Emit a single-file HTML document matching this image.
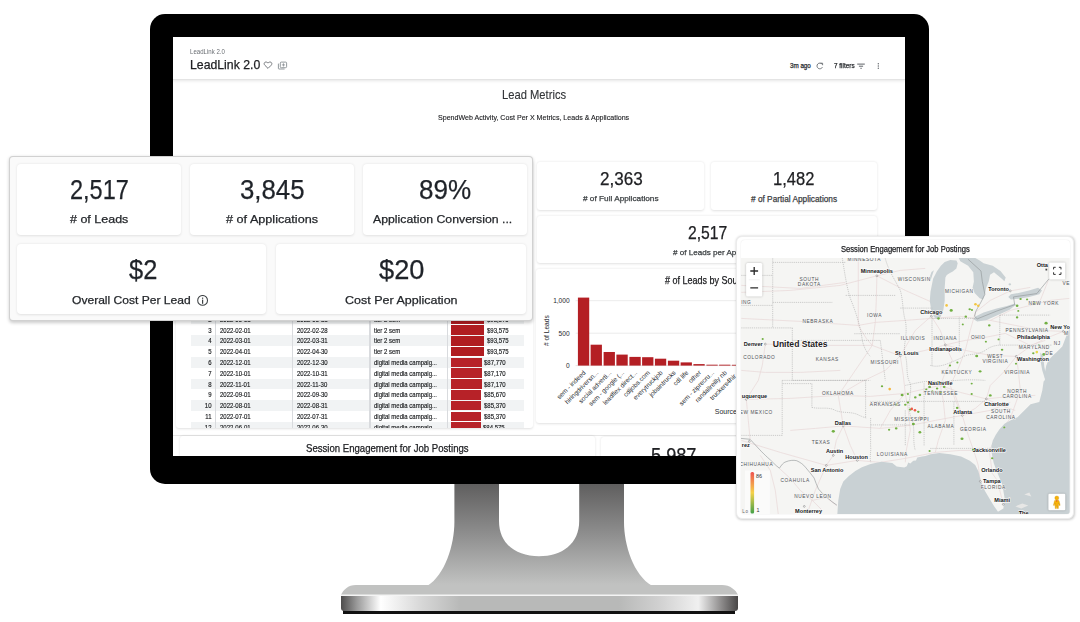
<!DOCTYPE html>
<html><head><meta charset="utf-8">
<style>

*{box-sizing:border-box;margin:0;padding:0}
html,body{width:1080px;height:622px;overflow:hidden;background:#fff}
body{position:relative;font-family:"Liberation Sans",Arial,sans-serif;color:#202124}
.abs{position:absolute}
#bezel{position:absolute;left:150px;top:14px;width:779px;height:470px;background:#000;border-radius:15px}
#screen{position:absolute;left:173px;top:37px;width:732px;height:419px;background:#fff;overflow:hidden}
.hdr{position:absolute;left:0;top:0;width:732px;height:42.5px;background:#fff;border-bottom:1px solid #e4e4e4;box-shadow:0 1px 3px rgba(0,0,0,.10)}
.t{position:absolute;white-space:nowrap;line-height:1}
.card{position:absolute;background:#fff;border-radius:3px;box-shadow:0 0.5px 2.5px rgba(0,0,0,.12)}
.kpi{position:absolute;background:#fff;border-radius:4px;box-shadow:0 0.5px 2.5px rgba(0,0,0,.1)}
.kn{position:absolute;left:0;width:100%;text-align:center;white-space:nowrap;line-height:1;color:#1f2329}
.kl{position:absolute;left:0;width:100%;text-align:center;white-space:nowrap;line-height:1;color:#2d3035}
.trow{position:absolute;left:0;width:333px;height:10.8px;font-size:6.9px;line-height:12.2px;color:#151719;-webkit-text-stroke:0.15px #151719}
.trow span{position:absolute;top:0;white-space:nowrap;transform:scaleX(0.87);transform-origin:0 0}
.trow span.c0{transform-origin:100% 0}
.trow span.bar{transform:none}
.c0{left:0;width:20.5px;text-align:right}
.c1{left:29.5px}.c2{left:106.3px}.c3{left:183.3px}
.bar{left:260.5px;top:0.8px!important;height:9.6px}
.vl{position:absolute;top:0;width:1.2px;height:100%;background:#d9dbde}

</style></head>
<body>
<!-- STAND -->
<svg class="abs" style="left:0;top:0" width="1080" height="622" viewBox="0 0 1080 622">
  <defs>
    <linearGradient id="neck" x1="0" y1="0" x2="0" y2="1">
      <stop offset="0" stop-color="#5c5b5b"/>
      <stop offset="0.5" stop-color="#8d8d8d"/>
      <stop offset="1" stop-color="#c2c3c2"/>
    </linearGradient>
    <linearGradient id="front" x1="0" y1="0" x2="1" y2="0">
      <stop offset="0" stop-color="#4d4c4c"/>
      <stop offset="0.04" stop-color="#9a9a9a"/>
      <stop offset="0.1" stop-color="#ffffff"/>
      <stop offset="0.2" stop-color="#d8d8d8"/>
      <stop offset="0.3" stop-color="#b8b9b8"/>
      <stop offset="0.7" stop-color="#b8b9b8"/>
      <stop offset="0.8" stop-color="#d0d0d0"/>
      <stop offset="0.9" stop-color="#f0f0f0"/>
      <stop offset="0.96" stop-color="#8a8888"/>
      <stop offset="1" stop-color="#484646"/>
    </linearGradient>
  </defs>
  <path d="M454.4,480 L499,480 L499,521 C499,544 516,556.2 539,556.2 C562,556.2 579.2,544 579.2,521 L579.2,480 L624,480 L624,522 C624,545 633.4,575 652,585.8 L427.5,585.8 C445,575 454.4,545 454.4,522 Z" fill="url(#neck)"/>
  <path d="M356,585 L722,585 C730,585 736,590 738,595 L341,595 C343,590 348,585 356,585 Z" fill="#c1c2c1"/>
  <rect x="341" y="594.5" width="397" height="1.6" fill="#f4f4f4"/>
  <rect x="343" y="610" width="392" height="4" fill="#111"/>
  <path d="M341,596 L738,596 L738,608 Q738,611 735,611 L344,611 Q341,611 341,608 Z" fill="url(#front)"/>
</svg>
<div id="bezel"></div>
<div id="screen">
  <div class="hdr"></div>
<svg class="abs" style="left:0;top:0" width="732" height="43" viewBox="173 37 732 43">
  <path d="M268,68.4 L264.9,65.3 C263.9,64.3 263.9,62.9 264.9,62.3 C265.9,61.7 267.2,62.1 268,63.1 C268.8,62.1 270.1,61.7 271.1,62.3 C272.1,62.9 272.1,64.3 271.1,65.3 Z" fill="none" stroke="#5f6368" stroke-width="0.85" stroke-linejoin="round"/>
  <rect x="280.3" y="62.1" width="6.3" height="5.6" rx="1" fill="none" stroke="#80868b" stroke-width="0.85"/>
  <path d="M278.4,63.6 L278.4,68.4 Q278.4,69 279,69 L284.6,69" fill="none" stroke="#80868b" stroke-width="0.85"/>
  <path d="M283.45,63.3 V66.5 M281.85,64.9 H285.05" stroke="#80868b" stroke-width="0.75"/>
  <path d="M822.1,64.2 A2.85,2.85 0 1 0 822.4,67.2" fill="none" stroke="#5f6368" stroke-width="0.85"/>
  <path d="M820.6,63.2 L822.6,63.2 L822.6,65.2" fill="none" stroke="#5f6368" stroke-width="0.85"/>
  <rect x="857.2" y="63.6" width="7.6" height="1.0" fill="#5f6368"/>
  <rect x="858.9" y="65.7" width="4.2" height="1.0" fill="#5f6368"/>
  <rect x="860.4" y="67.8" width="1.3" height="1.0" fill="#5f6368"/>
  <circle cx="878.3" cy="63.7" r="0.68" fill="#5f6368"/><circle cx="878.3" cy="66" r="0.68" fill="#5f6368"/><circle cx="878.3" cy="68.3" r="0.68" fill="#5f6368"/>
</svg>

  <div class="card" style="left:3px;top:124px;width:357px;height:266.5px"></div>
<div class="abs" style="left:17.5px;top:213.0px;width:333.0px;height:177.7px;overflow:hidden">
<div class="trow" style="top:52.9px;background:#fff">
<span class="c0">1</span><span class="c1">2022-01-01</span><span class="c2">2022-01-31</span><span class="c3">tier 2 sem</span><span class="bar" style="width:33.2px;background:#b01d21"></span><span class="c5" style="left:296.0px">$93,575</span>
</div>
<div class="trow" style="top:63.7px;background:#f1f3f4">
<span class="c0">2</span><span class="c1">2022-05-01</span><span class="c2">2022-05-31</span><span class="c3">tier 2 sem</span><span class="bar" style="width:33.2px;background:#b01d21"></span><span class="c5" style="left:296.0px">$93,575</span>
</div>
<div class="trow" style="top:74.5px;background:#fff">
<span class="c0">3</span><span class="c1">2022-02-01</span><span class="c2">2022-02-28</span><span class="c3">tier 2 sem</span><span class="bar" style="width:33.2px;background:#b01d21"></span><span class="c5" style="left:296.0px">$93,575</span>
</div>
<div class="trow" style="top:85.3px;background:#f1f3f4">
<span class="c0">4</span><span class="c1">2022-03-01</span><span class="c2">2022-03-31</span><span class="c3">tier 2 sem</span><span class="bar" style="width:33.2px;background:#b01d21"></span><span class="c5" style="left:296.0px">$93,575</span>
</div>
<div class="trow" style="top:96.1px;background:#fff">
<span class="c0">5</span><span class="c1">2022-04-01</span><span class="c2">2022-04-30</span><span class="c3">tier 2 sem</span><span class="bar" style="width:33.2px;background:#b01d21"></span><span class="c5" style="left:296.0px">$93,575</span>
</div>
<div class="trow" style="top:106.9px;background:#f1f3f4">
<span class="c0">6</span><span class="c1">2022-12-01</span><span class="c2">2022-12-30</span><span class="c3">digital media campaig...</span><span class="bar" style="width:31.0px;background:#b72228"></span><span class="c5" style="left:293.8px">$87,770</span>
</div>
<div class="trow" style="top:117.7px;background:#fff">
<span class="c0">7</span><span class="c1">2022-10-01</span><span class="c2">2022-10-31</span><span class="c3">digital media campaig...</span><span class="bar" style="width:30.9px;background:#b72228"></span><span class="c5" style="left:293.7px">$87,170</span>
</div>
<div class="trow" style="top:128.5px;background:#f1f3f4">
<span class="c0">8</span><span class="c1">2022-11-01</span><span class="c2">2022-11-30</span><span class="c3">digital media campaig...</span><span class="bar" style="width:30.9px;background:#b72228"></span><span class="c5" style="left:293.7px">$87,170</span>
</div>
<div class="trow" style="top:139.3px;background:#fff">
<span class="c0">9</span><span class="c1">2022-09-01</span><span class="c2">2022-09-30</span><span class="c3">digital media campaig...</span><span class="bar" style="width:30.4px;background:#b72228"></span><span class="c5" style="left:293.2px">$85,670</span>
</div>
<div class="trow" style="top:150.1px;background:#f1f3f4">
<span class="c0">10</span><span class="c1">2022-08-01</span><span class="c2">2022-08-31</span><span class="c3">digital media campaig...</span><span class="bar" style="width:30.3px;background:#b72228"></span><span class="c5" style="left:293.1px">$85,370</span>
</div>
<div class="trow" style="top:160.9px;background:#fff">
<span class="c0">11</span><span class="c1">2022-07-01</span><span class="c2">2022-07-31</span><span class="c3">digital media campaig...</span><span class="bar" style="width:30.3px;background:#b72228"></span><span class="c5" style="left:293.1px">$85,370</span>
</div>
<div class="trow" style="top:171.7px;background:#f1f3f4">
<span class="c0">12</span><span class="c1">2022-06-01</span><span class="c2">2022-06-30</span><span class="c3">digital media campaig...</span><span class="bar" style="width:30.0px;background:#b72228"></span><span class="c5" style="left:292.8px">$84,575</span>
</div>
<div class="vl" style="left:24.0px"></div><div class="vl" style="left:101.1px"></div><div class="vl" style="left:178.9px"></div><div class="vl" style="left:256.3px"></div>
</div>

  <div class="card" style="left:364.3px;top:125.1px;width:166.7px;height:47.5px"></div>
  <div class="card" style="left:537.7px;top:125.1px;width:166.4px;height:47.5px"></div>
  <div class="card" style="left:364.3px;top:178.7px;width:339.8px;height:47.3px"></div>
  <div class="card" style="left:363.4px;top:232.3px;width:340.7px;height:154.2px"></div>
<svg class="abs" style="left:363.4px;top:232.3px" width="341.0" height="154.2" viewBox="0 0 341.0 154.2">
<line x1="39.6" y1="31.7" x2="335.6" y2="31.7" stroke="#e6e6e6" stroke-width="0.8"/>
<line x1="39.6" y1="64.2" x2="335.6" y2="64.2" stroke="#e6e6e6" stroke-width="0.8"/>
<line x1="39.6" y1="96.6" x2="335.6" y2="96.6" stroke="#e0e0e0" stroke-width="0.8"/>
<rect x="41.90" y="28.60" width="11.3" height="68.00" fill="#b41f24"/>
<rect x="54.60" y="75.70" width="11.3" height="20.90" fill="#b41f24"/>
<rect x="67.60" y="83.00" width="11.3" height="13.60" fill="#b41f24"/>
<rect x="80.40" y="85.60" width="11.3" height="11.00" fill="#b41f24"/>
<rect x="93.40" y="87.90" width="11.3" height="8.70" fill="#b41f24"/>
<rect x="106.10" y="88.20" width="11.3" height="8.40" fill="#b41f24"/>
<rect x="118.90" y="89.70" width="11.3" height="6.90" fill="#b41f24"/>
<rect x="131.90" y="91.70" width="11.3" height="4.90" fill="#b41f24"/>
<rect x="144.60" y="93.40" width="11.3" height="3.20" fill="#b41f24"/>
<rect x="157.40" y="95.10" width="11.3" height="1.50" fill="#b41f24"/>
<rect x="170.40" y="95.70" width="11.3" height="0.90" fill="#b41f24"/>
<rect x="183.10" y="95.70" width="11.3" height="0.90" fill="#b41f24"/>
<rect x="195.90" y="95.80" width="11.3" height="0.80" fill="#b41f24"/>
<rect x="208.70" y="95.80" width="11.3" height="0.80" fill="#b41f24"/>
<rect x="221.50" y="95.80" width="11.3" height="0.80" fill="#b41f24"/>
<rect x="234.30" y="95.80" width="11.3" height="0.80" fill="#b41f24"/>
<text x="33.6" y="34.0" font-size="6.6" text-anchor="end" fill="#26292d">1,000</text>
<text x="33.6" y="66.6" font-size="6.6" text-anchor="end" fill="#26292d">500</text>
<text x="33.6" y="99.0" font-size="6.6" text-anchor="end" fill="#26292d">0</text>
<text transform="translate(13.1 61.7) rotate(-90)" font-size="6.6" text-anchor="middle" fill="#26292d"># of Leads</text>
<text transform="translate(50.0 104.1) rotate(-45)" font-size="6.5" text-anchor="end" fill="#26292d">sem - indeed</text>
<text transform="translate(62.8 104.1) rotate(-45)" font-size="6.5" text-anchor="end" fill="#26292d">hiringdriversn...</text>
<text transform="translate(75.8 104.1) rotate(-45)" font-size="6.5" text-anchor="end" fill="#26292d">social adverti...</text>
<text transform="translate(88.5 104.1) rotate(-45)" font-size="6.5" text-anchor="end" fill="#26292d">sem - google (...</text>
<text transform="translate(101.5 104.1) rotate(-45)" font-size="6.5" text-anchor="end" fill="#26292d">leadflex direct...</text>
<text transform="translate(114.2 104.1) rotate(-45)" font-size="6.5" text-anchor="end" fill="#26292d">cdljobs.com</text>
<text transform="translate(127.0 104.1) rotate(-45)" font-size="6.5" text-anchor="end" fill="#26292d">everytruckjob</text>
<text transform="translate(140.0 104.1) rotate(-45)" font-size="6.5" text-anchor="end" fill="#26292d">jobsintrucks</text>
<text transform="translate(152.8 104.1) rotate(-45)" font-size="6.5" text-anchor="end" fill="#26292d">cdl life</text>
<text transform="translate(165.5 104.1) rotate(-45)" font-size="6.5" text-anchor="end" fill="#26292d">other</text>
<text transform="translate(178.5 104.1) rotate(-45)" font-size="6.5" text-anchor="end" fill="#26292d">sem - ziprecru...</text>
<text transform="translate(191.2 104.1) rotate(-45)" font-size="6.5" text-anchor="end" fill="#26292d">randallreilly nb</text>
<text transform="translate(204.0 104.1) rotate(-45)" font-size="6.5" text-anchor="end" fill="#26292d">truckers4hir...</text>
<text transform="translate(216.9 104.1) rotate(-45)" font-size="6.5" text-anchor="end" fill="#26292d">cdl...</text>
<text x="178.8" y="145.0" font-size="7" fill="#26292d">Source</text>
</svg>

  <div class="abs" style="left:0;top:397.6px;width:732px;height:1px;background:#e6e6e6"></div>
  <div class="card" style="left:6.6px;top:399px;width:415.4px;height:40px"></div>
  <div class="card" style="left:428.3px;top:399.6px;width:300px;height:40px"></div>
<div class="t" style="left:17.31px;top:12.21px;font-size:6.57px;color:#6b6f74;transform:scaleX(0.928);transform-origin:0 0;">LeadLink 2.0</div>
<div class="t" style="left:16.82px;top:22.19px;font-size:12.71px;color:#202124;transform:scaleX(0.966);transform-origin:0 0;-webkit-text-stroke:0.25px #202124;">LeadLink 2.0</div>
<div class="t" style="left:616.91px;top:25.66px;font-size:6.29px;color:#2a2d31;-webkit-text-stroke:0.25px #2a2d31;">3m ago</div>
<div class="t" style="left:660.58px;top:25.66px;font-size:6.29px;color:#2a2d31;transform:scaleX(1.017);transform-origin:0 0;-webkit-text-stroke:0.25px #2a2d31;">7 filters</div>
<div class="t" style="left:328.80px;top:51.86px;font-size:12.29px;color:#303336;transform:scaleX(0.912);transform-origin:0 0;-webkit-text-stroke:0.10px #303336;">Lead Metrics</div>
<div class="t" style="left:264.62px;top:76.86px;font-size:7.57px;color:#202124;transform:scaleX(0.937);transform-origin:0 0;-webkit-text-stroke:0.12px #202124;">SpendWeb Activity, Cost Per X Metrics, Leads &amp; Applications</div>
<div class="t" style="left:426.75px;top:133.52px;font-size:17.86px;color:#202124;transform:scaleX(0.957);transform-origin:0 0;-webkit-text-stroke:0.25px #202124;">2,363</div>
<div class="t" style="left:410.20px;top:158.42px;font-size:7.86px;color:#3c4043;transform:scaleX(1.048);transform-origin:0 0;-webkit-text-stroke:0.25px #3c4043;"># of Full Applications</div>
<div class="t" style="left:600.44px;top:133.46px;font-size:18.29px;color:#202124;transform:scaleX(0.903);transform-origin:0 0;-webkit-text-stroke:0.25px #202124;">1,482</div>
<div class="t" style="left:578.00px;top:158.16px;font-size:8.29px;color:#3c4043;-webkit-text-stroke:0.25px #3c4043;"># of Partial Applications</div>
<div class="t" style="left:515.11px;top:186.60px;font-size:18.00px;color:#202124;transform:scaleX(0.873);transform-origin:0 0;-webkit-text-stroke:0.25px #202124;">2,517</div>
<div class="t" style="left:500.00px;top:211.80px;font-size:8.00px;color:#3c4043;transform:scaleX(1.010);transform-origin:0 0;-webkit-text-stroke:0.25px #3c4043;"># of Leads per Application</div>
<div class="t" style="left:132.92px;top:407.26px;font-size:10.29px;color:#202124;transform:scaleX(0.933);transform-origin:0 0;-webkit-text-stroke:0.25px #202124;">Session Engagement for Job Postings</div>
<div class="t" style="left:478.07px;top:407.56px;font-size:22.29px;color:#202124;transform:scaleX(0.815);transform-origin:0 0;-webkit-text-stroke:0.25px #202124;">5,987</div>
<div class="t" style="left:491.60px;top:239.18px;font-size:10.14px;color:#202124;transform:scaleX(0.888);transform-origin:0 0;-webkit-text-stroke:0.25px #202124;"># of Leads by Source</div>
</div>
<div class="abs" id="kpi" style="left:9px;top:156px;width:523.8px;height:164.6px;background:#fafafa;border-radius:4px;border:0.7px solid rgba(0,0,0,.16);box-shadow:0 1.5px 3.5px rgba(0,0,0,.2)">
  <div class="kpi" style="left:7.3px;top:7.3px;width:164px;height:70.5px"></div>
  <div class="kpi" style="left:180.3px;top:7.3px;width:164px;height:70.5px"></div>
  <div class="kpi" style="left:353.3px;top:7.3px;width:164px;height:70.5px"></div>
  <div class="kpi" style="left:7.3px;top:86.8px;width:249px;height:70.6px"></div>
  <div class="kpi" style="left:266.3px;top:86.8px;width:250px;height:70.6px"></div>
</div>
<div class="t" style="left:69.72px;top:175.59px;font-size:27.43px;color:#1f2329;transform:scaleX(0.858);transform-origin:0 0;-webkit-text-stroke:0.25px #1f2329;">2,517</div>
<div class="t" style="left:70.00px;top:213.69px;font-size:11.43px;color:#24272b;transform:scaleX(1.094);transform-origin:0 0;-webkit-text-stroke:0.25px #24272b;"># of Leads</div>
<div class="t" style="left:239.93px;top:175.59px;font-size:27.43px;color:#1f2329;transform:scaleX(0.941);transform-origin:0 0;-webkit-text-stroke:0.25px #1f2329;">3,845</div>
<div class="t" style="left:225.90px;top:213.69px;font-size:11.43px;color:#24272b;transform:scaleX(1.106);transform-origin:0 0;-webkit-text-stroke:0.25px #24272b;"># of Applications</div>
<div class="t" style="left:418.76px;top:175.59px;font-size:27.43px;color:#1f2329;transform:scaleX(0.951);transform-origin:0 0;-webkit-text-stroke:0.25px #1f2329;">89%</div>
<div class="t" style="left:372.90px;top:213.69px;font-size:11.43px;color:#24272b;transform:scaleX(1.075);transform-origin:0 0;-webkit-text-stroke:0.25px #24272b;">Application Conversion ...</div>
<div class="t" style="left:128.55px;top:255.66px;font-size:27.57px;color:#1f2329;transform:scaleX(0.924);transform-origin:0 0;-webkit-text-stroke:0.25px #1f2329;">$2</div>
<div class="t" style="left:71.82px;top:293.54px;font-size:11.71px;color:#24272b;transform:scaleX(1.031);transform-origin:0 0;-webkit-text-stroke:0.25px #24272b;">Overall Cost Per Lead</div>
<div class="t" style="left:378.93px;top:255.66px;font-size:27.57px;color:#1f2329;transform:scaleX(0.988);transform-origin:0 0;-webkit-text-stroke:0.25px #1f2329;">$20</div>
<div class="t" style="left:344.67px;top:293.54px;font-size:11.71px;color:#24272b;transform:scaleX(1.068);transform-origin:0 0;-webkit-text-stroke:0.25px #24272b;">Cost Per Application</div>
<svg class="abs" style="left:197px;top:294.6px" width="12" height="12" viewBox="0 0 12 12"><circle cx="5.6" cy="5.4" r="4.9" fill="none" stroke="#3c4043" stroke-width="1.05"/><rect x="5" y="2.6" width="1.2" height="1.2" fill="#3c4043"/><rect x="5" y="4.6" width="1.2" height="4.2" fill="#3c4043"/></svg>
<div class="abs" id="map" style="left:736.3px;top:236.3px;width:337.5px;height:283.1px;background:#fff;border-radius:6px;border:0.8px solid #ececec;box-shadow:0.8px 0.8px 2.5px rgba(0,0,0,.2);overflow:hidden">
<div class="abs" style="left:3.6px;top:3.2px;width:328.7px;height:273.9px;border-radius:4px;box-shadow:0 0 1.5px rgba(0,0,0,.12)"></div>
<svg class="abs" style="left:3.6px;top:20.5px;border-radius:0 0 3px 3px" width="328.7" height="256.6" viewBox="740.7 257.6 328.7 256.6" font-family="Liberation Sans, Arial, sans-serif">
<rect x="740.7" y="257.6" width="328.7" height="256.6" fill="#f5f5f3"/>
<path d="M741,318 L800,321 L858,325 L875,322 L905,320 L931,318 L960,316 L990,320 L1015,325 L1040,330 L1063,331" fill="none" stroke="#e8d7d7" stroke-width="0.7" stroke-linejoin="round"/>
<path d="M765,343.7 L820,345 L872,345 L900,355.5 L925,350 L945,344.5 L965,340 L980,338 L1005,333 L1030,345 L1045,340" fill="none" stroke="#e8d7d7" stroke-width="0.7" stroke-linejoin="round"/>
<path d="M741,398 L746,399 L790,398 L838,395 L870,396 L905,393 L940,385 L960,392 L986,398.5 L1010,396 L1035,395" fill="none" stroke="#e8d7d7" stroke-width="0.7" stroke-linejoin="round"/>
<path d="M741,440 L780,452 L826,465 L857,460 L880,462 L905,458 L935,452 L960,450 L989,450" fill="none" stroke="#e8d7d7" stroke-width="0.7" stroke-linejoin="round"/>
<path d="M790,430 L815,428 L843,425.5 L880,428 L910,425 L935,420 L962,415 L990,410 L1010,402" fill="none" stroke="#e8d7d7" stroke-width="0.7" stroke-linejoin="round"/>
<path d="M876.6,275.4 L876,300 L875,322 L872,345 L855,370 L838,395 L843,425.5 L836,440 L833,455 L826,465 L815,490 L808,510" fill="none" stroke="#e8d7d7" stroke-width="0.7" stroke-linejoin="round"/>
<path d="M1003,504 L997,480 L992,473 L989,450 L1000,430 L1010,418 L1020,390 L1018,370 L1016,356 L1030,346 L1043,339 L1063,331" fill="none" stroke="#e8d7d7" stroke-width="0.7" stroke-linejoin="round"/>
<path d="M980,481 L978,465 L975,455 L968,435 L962,415 L955,400 L950,385 L958,368 L965,350 L970,330 L975,312" fill="none" stroke="#e8d7d7" stroke-width="0.7" stroke-linejoin="round"/>
<path d="M931,315.8 L940,330 L945,344.5 L952,360 L945,372 L940,385 L943,400 L945,420 L938,440 L935,452" fill="none" stroke="#e8d7d7" stroke-width="0.7" stroke-linejoin="round"/>
<path d="M931,315.8 L915,330 L900,355.5 L903,375 L905,393 L908,410 L910,430 L906,450 L905,462" fill="none" stroke="#e8d7d7" stroke-width="0.7" stroke-linejoin="round"/>
<path d="M741,292 L790,290 L840,285 L876.6,275.4 L905,290 L932,302 L931,315.8" fill="none" stroke="#e8d7d7" stroke-width="0.7" stroke-linejoin="round"/>
<path d="M741,285 L800,288 L845,282" fill="none" stroke="#e8d7d7" stroke-width="0.7" stroke-linejoin="round"/>
<path d="M990,320 L1010,310 L1030,305 L1050,300 L1069,298" fill="none" stroke="#e8d7d7" stroke-width="0.7" stroke-linejoin="round"/>
<path d="M765,343.7 L762,365 L758,380 L746,399 L748,420 L749.8,438.9" fill="none" stroke="#e8d7d7" stroke-width="0.7" stroke-linejoin="round"/>
<path d="M858,258 L858,300 L858,325 L866,338 L872,345" fill="none" stroke="#e8d7d7" stroke-width="0.7" stroke-linejoin="round"/>
<path d="M900,355.5 L885,370 L860,382 L838,395" fill="none" stroke="#e8d7d7" stroke-width="0.7" stroke-linejoin="round"/>
<path d="M940,385 L955,395 L962,415" fill="none" stroke="#e8d7d7" stroke-width="0.7" stroke-linejoin="round"/>
<path d="M1016,356 L1005,370 L990,385 L986,398.5 L975,408 L962,415" fill="none" stroke="#e8d7d7" stroke-width="0.7" stroke-linejoin="round"/>
<path d="M986,398.5 L1000,405 L1015,410" fill="none" stroke="#e8d7d7" stroke-width="0.7" stroke-linejoin="round"/>
<path d="M843,425.5 L850,445 L857,460" fill="none" stroke="#e8d7d7" stroke-width="0.7" stroke-linejoin="round"/>
<path d="M779,468 L790,478 L800,490 L812,500 L822,510" fill="none" stroke="#e8d7d7" stroke-width="0.7" stroke-linejoin="round"/>
<path d="M760,455 L770,470 L775,490 L778,514" fill="none" stroke="#e8d7d7" stroke-width="0.7" stroke-linejoin="round"/>
<path d="M812,500 L826,497 L836,505" fill="none" stroke="#e8d7d7" stroke-width="0.7" stroke-linejoin="round"/>
<path d="M905,393 L890,410 L880,428" fill="none" stroke="#e8d7d7" stroke-width="0.7" stroke-linejoin="round"/>
<path d="M741,370 L765,372 L800,372 L840,370" fill="none" stroke="#e8d7d7" stroke-width="0.7" stroke-linejoin="round"/>
<path d="M1030,305 L1040,300 L1048,280" fill="none" stroke="#e8d7d7" stroke-width="0.7" stroke-linejoin="round"/>
<path d="M975,312 L990,300 L1010,290.5 L1030,287" fill="none" stroke="#e8d7d7" stroke-width="0.7" stroke-linejoin="round"/>
<path d="M876.6,275.4 L900,270 L925,268" fill="none" stroke="#e8d7d7" stroke-width="0.7" stroke-linejoin="round"/>
<path d="M945,344.5 L965,350 L990,355 L1016,356" fill="none" stroke="#e8d7d7" stroke-width="0.7" stroke-linejoin="round"/>
<path d="M940.6,265.4 L944.4,261.5 L950,259.5 L956.1,260.2 L957.4,262.8 L956.1,268 L952.5,271 L949.6,272.5 L946.5,274.5 L945.1,277 L944.4,287.4 L944.4,300.4 L943.1,309.4 L940.5,316 L937,318.8 L933.4,316 L930.8,309.4 L929.5,300.4 L930.2,291.3 L932.8,278.3 L936.5,271 Z M928.3,279.5 L931.2,271.5 L933.6,269.8 L930.6,279.2 Z" fill="#c9d1d4"/>
<path d="M958.5,257.6 L975,257.6 L979.4,260.2 L983.3,262.8 L992.4,265.4 L1000.2,270.6 L1005.4,277 L1004.1,280.9 L1001.5,278.3 L993.7,271.9 L989.8,274.4 L988.5,280.9 L985.9,287.4 L984.6,293.9 L982.7,299.1 L979.4,297.8 L974.3,292.6 L972.3,287.4 L973.6,281 L973,271.9 L967.8,265.4 L960,260.8 Z" fill="#c9d1d4"/>
<path d="M973,318.5 L975.6,315.9 L983.3,312 L996.3,308.2 L1006.7,305.6 L1014.4,303 L1015.7,304.3 L1009.3,309.4 L997.6,314.6 L985.9,319.8 L976.9,321.1 Z" fill="#c9d1d4"/>
<path d="M1008,296.5 L1010.6,293.9 L1018.3,292.6 L1028.7,290 L1037.8,287.4 L1041.7,290 L1039.1,293.9 L1028.7,296.5 L1018.3,298.4 L1010.6,299.1 Z" fill="#c9d1d4"/>
<path d="M1009.5,282.8 a1.3,1 0 1 0 0.1,0 Z" fill="#c9d1d4"/>
<path d="M1069.4,328 L1067,333 L1062,346 L1056,352 L1052.6,355 L1048,360 L1046,365 L1044.6,372 L1044.6,379.5 L1043.3,381 L1042,390 L1039,401.7 L1030.3,403.9 L1024,410 L1017.2,416.9 L1010,420 L1004.2,423.4 L999,429 L995.5,434.3 L992.5,440 L991.2,445.1 L991.2,451.6 L993.4,462.5 L996.6,471.2 L1002,484.2 L1004.2,497.2 L1003.1,508.1 L997.7,511.4 L994,506 L991.2,501.6 L984.7,490.7 L980.3,479.9 L978.2,471.2 L974.9,464.7 L969.5,460.3 L960.8,456 L950,453.8 L939.1,452.7 L930.4,453.8 L925,455.5 L921.7,456 L917,457 L915.7,460 L913,460.3 L910,463 L908,462 L906.5,465.8 L904,467 L900,466.5 L896.4,466 L892,462.5 L881.1,461.4 L870.3,463.6 L861.6,466.8 L855,470.5 L848.6,475.5 L843,481 L839.9,488.6 L838,500 L837,514.2 L1069.4,514.2 Z" fill="#c9d1d4"/>
<path d="M1040,352 L1043,356 L1044,366 L1046,376 L1044.5,378 L1042,370 L1040.5,362 Z" fill="#c9d1d4"/>
<path d="M1015,506 L1022,503 L1028,505 L1021,508 Z M1024,494 L1029,492 L1031,496 Z" fill="#e7e7e6"/>
<path d="M772.4,262 L845,262" fill="none" stroke="#a8a8a8" stroke-width="0.55" stroke-dasharray="1.2,0.9"/>
<path d="M772.4,258 L772.4,327.5" fill="none" stroke="#a8a8a8" stroke-width="0.55" stroke-dasharray="1.2,0.9"/>
<path d="M772.4,302 L832,302" fill="none" stroke="#a8a8a8" stroke-width="0.55" stroke-dasharray="1.2,0.9"/>
<path d="M741,327.5 L792,327.5" fill="none" stroke="#a8a8a8" stroke-width="0.55" stroke-dasharray="1.2,0.9"/>
<path d="M792,327.5 L792,380" fill="none" stroke="#a8a8a8" stroke-width="0.55" stroke-dasharray="1.2,0.9"/>
<path d="M792,340 L880,340" fill="none" stroke="#a8a8a8" stroke-width="0.55" stroke-dasharray="1.2,0.9"/>
<path d="M792,380 L870,380" fill="none" stroke="#a8a8a8" stroke-width="0.55" stroke-dasharray="1.2,0.9"/>
<path d="M845.4,295 L895,295" fill="none" stroke="#a8a8a8" stroke-width="0.55" stroke-dasharray="1.2,0.9"/>
<path d="M854,333.3 L900,333.3" fill="none" stroke="#a8a8a8" stroke-width="0.55" stroke-dasharray="1.2,0.9"/>
<path d="M741,305 L772.4,305" fill="none" stroke="#a8a8a8" stroke-width="0.55" stroke-dasharray="1.2,0.9"/>
<path d="M741,275 L772.4,275" fill="none" stroke="#a8a8a8" stroke-width="0.55" stroke-dasharray="1.2,0.9"/>
<path d="M900,307.7 L932,307.7" fill="none" stroke="#a8a8a8" stroke-width="0.55" stroke-dasharray="1.2,0.9"/>
<path d="M931.7,315.8 L931.7,365.6" fill="none" stroke="#a8a8a8" stroke-width="0.55" stroke-dasharray="1.2,0.9"/>
<path d="M959,317 L959,351.7" fill="none" stroke="#a8a8a8" stroke-width="0.55" stroke-dasharray="1.2,0.9"/>
<path d="M932,318 L975,318" fill="none" stroke="#a8a8a8" stroke-width="0.55" stroke-dasharray="1.2,0.9"/>
<path d="M999.5,314.7 L999.5,344.7" fill="none" stroke="#a8a8a8" stroke-width="0.55" stroke-dasharray="1.2,0.9"/>
<path d="M999.5,314.7 L1050,314.7" fill="none" stroke="#a8a8a8" stroke-width="0.55" stroke-dasharray="1.2,0.9"/>
<path d="M999.5,344.7 L1052,344.7" fill="none" stroke="#a8a8a8" stroke-width="0.55" stroke-dasharray="1.2,0.9"/>
<path d="M781.9,380 L781.9,435" fill="none" stroke="#a8a8a8" stroke-width="0.55" stroke-dasharray="1.2,0.9"/>
<path d="M741,435 L781.9,435" fill="none" stroke="#a8a8a8" stroke-width="0.55" stroke-dasharray="1.2,0.9"/>
<path d="M865.3,380 L865.3,417.6" fill="none" stroke="#a8a8a8" stroke-width="0.55" stroke-dasharray="1.2,0.9"/>
<path d="M870.3,424.5 L910,424.5" fill="none" stroke="#a8a8a8" stroke-width="0.55" stroke-dasharray="1.2,0.9"/>
<path d="M870.3,417.6 L870.3,445" fill="none" stroke="#a8a8a8" stroke-width="0.55" stroke-dasharray="1.2,0.9"/>
<path d="M782.3,383.2 L811.6,383.2" fill="none" stroke="#a8a8a8" stroke-width="0.55" stroke-dasharray="1.2,0.9"/>
<path d="M811.6,383.2 L811.6,407" fill="none" stroke="#a8a8a8" stroke-width="0.55" stroke-dasharray="1.2,0.9"/>
<path d="M923.8,383 L923.8,445" fill="none" stroke="#a8a8a8" stroke-width="0.55" stroke-dasharray="1.2,0.9"/>
<path d="M870,401 L985,401" fill="none" stroke="#a8a8a8" stroke-width="0.55" stroke-dasharray="1.2,0.9"/>
<path d="M953.6,401 L953.6,445" fill="none" stroke="#a8a8a8" stroke-width="0.55" stroke-dasharray="1.2,0.9"/>
<path d="M930,448 L990,448" fill="none" stroke="#a8a8a8" stroke-width="0.55" stroke-dasharray="1.2,0.9"/>
<path d="M905,410 L905,445" fill="none" stroke="#a8a8a8" stroke-width="0.55" stroke-dasharray="1.2,0.9"/>
<path d="M782,380 L866,380" fill="none" stroke="#a8a8a8" stroke-width="0.55" stroke-dasharray="1.2,0.9"/>
<path d="M880,340 L885,380" fill="none" stroke="#a8a8a8" stroke-width="0.55" stroke-dasharray="1.2,0.9"/>
<path d="M842,257.5 C844,270 846,285 850,298 C855,310 860,325 862,340 C863,345 866,352 870,356" fill="none" stroke="#a8a8a8" stroke-width="0.55" stroke-dasharray="1.2,0.9"/>
<path d="M885,258 C888,270 895,280 900,290 C903,300 902,310 905,320 C908,335 902,345 905,355 C908,365 905,375 910,383 C912,395 905,405 912,420 C915,430 912,440 915,450" fill="none" stroke="#a8a8a8" stroke-width="0.55" stroke-dasharray="1.2,0.9"/>
<path d="M811.6,407 C820,409 828,406 835,410 C842,413 850,411 857,414 C861,416 864,417 865.9,417.6" fill="none" stroke="#a8a8a8" stroke-width="0.55" stroke-dasharray="1.2,0.9"/>
<path d="M870.3,445 C871,452 869,457 870.5,462" fill="none" stroke="#a8a8a8" stroke-width="0.55" stroke-dasharray="1.2,0.9"/>
<path d="M930,365 C940,368 950,362 960,358 C968,352 975,356 985,350 C990,346 995,345 999.5,344.7" fill="none" stroke="#a8a8a8" stroke-width="0.55" stroke-dasharray="1.2,0.9"/>
<path d="M905,385 C915,383 925,380 935,381 C945,382 960,378 985,380" fill="none" stroke="#a8a8a8" stroke-width="0.55" stroke-dasharray="1.2,0.9"/>
<path d="M740.7,438 L749.8,438.9 C753,442 756,446 759.5,449.4 C762,452 765,455 767.2,457 C771,460 775,465 779.1,467.8 C781,465 783,462 785.6,461.4 C789,460 793,459.5 796.4,460.3 C800,462 803,464 805.1,466.8 C808,470 811,474 813.8,477.6 C815,481 816.5,485 818.2,488.6 C821,492 824,495 826.9,497.3 C830,500 833,502.5 836.6,504.8" fill="none" stroke="#8f9396" stroke-width="0.6"/>
<path d="M967.8,258.9 L980.7,270.6 L982,281 L984.6,293.9 L980.7,301.7 L975.6,310.7 L974.3,315.9 L976.9,318.5 L996.3,310.7 L1014.4,304.3 L1013.2,296.5 L1036.5,293.2 L1048.2,279 L1052,276" fill="none" stroke="#8f9396" stroke-width="0.6"/>
<ellipse cx="1020.3" cy="298.5" rx="1.19" ry="1.02" fill="#72b043"/>
<ellipse cx="1026.8" cy="299.0" rx="1.09" ry="0.93" fill="#72b043"/>
<ellipse cx="1016.8" cy="305.4" rx="1.39" ry="1.18" fill="#72b043"/>
<ellipse cx="1018.0" cy="310.5" rx="1.04" ry="0.89" fill="#72b043"/>
<ellipse cx="1034.2" cy="303.0" rx="1.32" ry="1.12" fill="#72b043"/>
<ellipse cx="969.4" cy="308.9" rx="1.22" ry="1.04" fill="#72b043"/>
<ellipse cx="971.7" cy="309.6" rx="1.03" ry="0.88" fill="#72b043"/>
<ellipse cx="965.5" cy="316.3" rx="1.30" ry="1.11" fill="#72b043"/>
<ellipse cx="962.5" cy="324.0" rx="1.02" ry="0.87" fill="#72b043"/>
<ellipse cx="989.0" cy="325.0" rx="1.26" ry="1.07" fill="#72b043"/>
<ellipse cx="985.6" cy="341.3" rx="1.04" ry="0.89" fill="#72b043"/>
<ellipse cx="998.3" cy="339.0" rx="1.05" ry="0.90" fill="#72b043"/>
<ellipse cx="1001.8" cy="349.4" rx="1.25" ry="1.07" fill="#72b043"/>
<ellipse cx="976.4" cy="355.6" rx="1.50" ry="1.27" fill="#72b043"/>
<ellipse cx="957.1" cy="362.1" rx="1.07" ry="0.91" fill="#72b043"/>
<ellipse cx="949.7" cy="365.1" rx="1.13" ry="0.96" fill="#72b043"/>
<ellipse cx="979.8" cy="370.9" rx="1.38" ry="1.17" fill="#72b043"/>
<ellipse cx="950.9" cy="310.0" rx="1.57" ry="1.33" fill="#72b043"/>
<ellipse cx="938.2" cy="318.1" rx="1.35" ry="1.14" fill="#72b043"/>
<ellipse cx="1016.8" cy="317.0" rx="1.24" ry="1.05" fill="#72b043"/>
<ellipse cx="1045.8" cy="322.8" rx="1.59" ry="1.35" fill="#72b043"/>
<ellipse cx="1038.8" cy="344.7" rx="1.03" ry="0.87" fill="#72b043"/>
<ellipse cx="1043.5" cy="354.0" rx="1.52" ry="1.29" fill="#72b043"/>
<ellipse cx="1033.0" cy="352.8" rx="1.17" ry="1.00" fill="#72b043"/>
<ellipse cx="1015.7" cy="363.3" rx="1.09" ry="0.92" fill="#72b043"/>
<ellipse cx="762.4" cy="338.6" rx="1.07" ry="0.91" fill="#72b043"/>
<ellipse cx="881.7" cy="385.8" rx="1.19" ry="1.01" fill="#72b043"/>
<ellipse cx="901.8" cy="394.6" rx="1.49" ry="1.27" fill="#72b043"/>
<ellipse cx="907.6" cy="393.6" rx="1.11" ry="0.94" fill="#72b043"/>
<ellipse cx="919.6" cy="394.6" rx="1.35" ry="1.15" fill="#72b043"/>
<ellipse cx="929.3" cy="386.5" rx="1.38" ry="1.18" fill="#72b043"/>
<ellipse cx="936.8" cy="388.1" rx="1.22" ry="1.04" fill="#72b043"/>
<ellipse cx="943.9" cy="386.5" rx="1.33" ry="1.13" fill="#72b043"/>
<ellipse cx="937.4" cy="381.6" rx="1.04" ry="0.88" fill="#72b043"/>
<ellipse cx="971.4" cy="383.2" rx="1.04" ry="0.88" fill="#72b043"/>
<ellipse cx="971.4" cy="393.6" rx="1.12" ry="0.96" fill="#72b043"/>
<ellipse cx="895.9" cy="404.3" rx="1.41" ry="1.20" fill="#72b043"/>
<ellipse cx="905.0" cy="404.3" rx="1.26" ry="1.07" fill="#72b043"/>
<ellipse cx="907.6" cy="402.0" rx="1.19" ry="1.01" fill="#72b043"/>
<ellipse cx="909.9" cy="409.2" rx="1.35" ry="1.15" fill="#72b043"/>
<ellipse cx="918.0" cy="411.4" rx="1.27" ry="1.08" fill="#72b043"/>
<ellipse cx="921.2" cy="418.2" rx="1.18" ry="1.00" fill="#72b043"/>
<ellipse cx="913.1" cy="423.7" rx="1.48" ry="1.26" fill="#72b043"/>
<ellipse cx="919.6" cy="431.9" rx="1.42" ry="1.21" fill="#72b043"/>
<ellipse cx="888.8" cy="429.3" rx="1.15" ry="0.97" fill="#72b043"/>
<ellipse cx="895.9" cy="428.0" rx="1.34" ry="1.14" fill="#72b043"/>
<ellipse cx="956.9" cy="407.5" rx="1.32" ry="1.12" fill="#72b043"/>
<ellipse cx="961.7" cy="438.3" rx="1.53" ry="1.30" fill="#72b043"/>
<ellipse cx="973.0" cy="449.7" rx="1.44" ry="1.22" fill="#72b043"/>
<ellipse cx="991.9" cy="457.8" rx="1.17" ry="1.00" fill="#72b043"/>
<ellipse cx="833.0" cy="430.9" rx="1.59" ry="1.35" fill="#72b043"/>
<ellipse cx="929.3" cy="450.6" rx="1.07" ry="0.91" fill="#72b043"/>
<ellipse cx="932.0" cy="391.0" rx="1.25" ry="1.06" fill="#72b043"/>
<ellipse cx="940.0" cy="391.5" rx="1.45" ry="1.24" fill="#72b043"/>
<ellipse cx="926.0" cy="389.0" rx="1.09" ry="0.93" fill="#72b043"/>
<ellipse cx="915.0" cy="397.0" rx="1.29" ry="1.10" fill="#72b043"/>
<ellipse cx="1004.0" cy="427.0" rx="1.02" ry="0.87" fill="#72b043"/>
<ellipse cx="990.0" cy="395.0" rx="1.40" ry="1.19" fill="#72b043"/>
<circle cx="975.2" cy="303.8" r="1.3" fill="#f4c542"/>
<circle cx="978.0" cy="305.4" r="1.3" fill="#f4c542"/>
<circle cx="946.3" cy="305.0" r="1.3" fill="#f4c542"/>
<circle cx="1036.5" cy="351.7" r="1.3" fill="#e8d84a"/>
<circle cx="1021.5" cy="371.4" r="1.3" fill="#d8dc5a"/>
<circle cx="889.4" cy="388.7" r="1.3" fill="#f2b640"/>
<circle cx="911.5" cy="408.5" r="1.3" fill="#ee5a4a"/>
<circle cx="914.7" cy="409.8" r="1.3" fill="#ee5a4a"/>
<circle cx="919.6" cy="417.3" r="1.3" fill="#f0a040"/>
<text x="864.0" y="260.3" font-size="4.8" letter-spacing="0.6" text-anchor="middle" fill="#505459" stroke="#f5f5f3" stroke-width="0.8" paint-order="stroke">MINNESOTA</text>
<text x="809.0" y="281.1" font-size="4.8" letter-spacing="0.6" text-anchor="middle" fill="#505459" stroke="#f5f5f3" stroke-width="0.8" paint-order="stroke">SOUTH</text>
<text x="809.0" y="285.8" font-size="4.8" letter-spacing="0.6" text-anchor="middle" fill="#505459" stroke="#f5f5f3" stroke-width="0.8" paint-order="stroke">DAKOTA</text>
<text x="914.0" y="280.6" font-size="4.8" letter-spacing="0.6" text-anchor="middle" fill="#505459" stroke="#f5f5f3" stroke-width="0.8" paint-order="stroke">WISCONSIN</text>
<text x="874.3" y="316.6" font-size="4.8" letter-spacing="0.6" text-anchor="middle" fill="#505459" stroke="#f5f5f3" stroke-width="0.8" paint-order="stroke">IOWA</text>
<text x="817.6" y="323.1" font-size="4.8" letter-spacing="0.6" text-anchor="middle" fill="#505459" stroke="#f5f5f3" stroke-width="0.8" paint-order="stroke">NEBRASKA</text>
<text x="959.0" y="292.6" font-size="4.8" letter-spacing="0.6" text-anchor="middle" fill="#505459" stroke="#f5f5f3" stroke-width="0.8" paint-order="stroke">MICHIGAN</text>
<text x="759.0" y="358.5" font-size="4.8" letter-spacing="0.6" text-anchor="middle" fill="#505459" stroke="#f5f5f3" stroke-width="0.8" paint-order="stroke">COLORADO</text>
<text x="827.0" y="361.0" font-size="4.8" letter-spacing="0.6" text-anchor="middle" fill="#505459" stroke="#f5f5f3" stroke-width="0.8" paint-order="stroke">KANSAS</text>
<text x="884.5" y="363.4" font-size="4.8" letter-spacing="0.6" text-anchor="middle" fill="#505459" stroke="#f5f5f3" stroke-width="0.8" paint-order="stroke">MISSOURI</text>
<text x="912.7" y="339.4" font-size="4.8" letter-spacing="0.6" text-anchor="middle" fill="#505459" stroke="#f5f5f3" stroke-width="0.8" paint-order="stroke">ILLINOIS</text>
<text x="945.0" y="339.4" font-size="4.8" letter-spacing="0.6" text-anchor="middle" fill="#505459" stroke="#f5f5f3" stroke-width="0.8" paint-order="stroke">INDIANA</text>
<text x="978.0" y="338.6" font-size="4.8" letter-spacing="0.6" text-anchor="middle" fill="#505459" stroke="#f5f5f3" stroke-width="0.8" paint-order="stroke">OHIO</text>
<text x="1043.5" y="304.9" font-size="4.8" letter-spacing="0.6" text-anchor="middle" fill="#505459" stroke="#f5f5f3" stroke-width="0.8" paint-order="stroke">NEW YORK</text>
<text x="1026.8" y="331.3" font-size="4.8" letter-spacing="0.6" text-anchor="middle" fill="#505459" stroke="#f5f5f3" stroke-width="0.8" paint-order="stroke">PENNSYLVANIA</text>
<text x="1034.0" y="348.2" font-size="4.8" letter-spacing="0.6" text-anchor="middle" fill="#505459" stroke="#f5f5f3" stroke-width="0.8" paint-order="stroke">MARYLAND</text>
<text x="995.0" y="357.9" font-size="4.8" letter-spacing="0.6" text-anchor="middle" fill="#505459" stroke="#f5f5f3" stroke-width="0.8" paint-order="stroke">WEST</text>
<text x="995.0" y="363.0" font-size="4.8" letter-spacing="0.6" text-anchor="middle" fill="#505459" stroke="#f5f5f3" stroke-width="0.8" paint-order="stroke">VIRGINIA</text>
<text x="956.7" y="374.1" font-size="4.8" letter-spacing="0.6" text-anchor="middle" fill="#505459" stroke="#f5f5f3" stroke-width="0.8" paint-order="stroke">KENTUCKY</text>
<text x="1016.8" y="374.1" font-size="4.8" letter-spacing="0.6" text-anchor="middle" fill="#505459" stroke="#f5f5f3" stroke-width="0.8" paint-order="stroke">VIRGINIA</text>
<text x="940.6" y="394.6" font-size="4.8" letter-spacing="0.6" text-anchor="middle" fill="#505459" stroke="#f5f5f3" stroke-width="0.8" paint-order="stroke">TENNESSEE</text>
<text x="1016.8" y="392.9" font-size="4.8" letter-spacing="0.6" text-anchor="middle" fill="#505459" stroke="#f5f5f3" stroke-width="0.8" paint-order="stroke">NORTH</text>
<text x="1016.8" y="397.8" font-size="4.8" letter-spacing="0.6" text-anchor="middle" fill="#505459" stroke="#f5f5f3" stroke-width="0.8" paint-order="stroke">CAROLINA</text>
<text x="837.6" y="394.6" font-size="4.8" letter-spacing="0.6" text-anchor="middle" fill="#505459" stroke="#f5f5f3" stroke-width="0.8" paint-order="stroke">OKLAHOMA</text>
<text x="885.0" y="405.9" font-size="4.8" letter-spacing="0.6" text-anchor="middle" fill="#505459" stroke="#f5f5f3" stroke-width="0.8" paint-order="stroke">ARKANSAS</text>
<text x="1000.6" y="413.0" font-size="4.8" letter-spacing="0.6" text-anchor="middle" fill="#505459" stroke="#f5f5f3" stroke-width="0.8" paint-order="stroke">SOUTH</text>
<text x="1000.6" y="418.2" font-size="4.8" letter-spacing="0.6" text-anchor="middle" fill="#505459" stroke="#f5f5f3" stroke-width="0.8" paint-order="stroke">CAROLINA</text>
<text x="911.5" y="420.6" font-size="4.8" letter-spacing="0.6" text-anchor="middle" fill="#505459" stroke="#f5f5f3" stroke-width="0.8" paint-order="stroke">MISSISSIPPI</text>
<text x="940.6" y="427.6" font-size="4.8" letter-spacing="0.6" text-anchor="middle" fill="#505459" stroke="#f5f5f3" stroke-width="0.8" paint-order="stroke">ALABAMA</text>
<text x="973.0" y="430.9" font-size="4.8" letter-spacing="0.6" text-anchor="middle" fill="#505459" stroke="#f5f5f3" stroke-width="0.8" paint-order="stroke">GEORGIA</text>
<text x="820.7" y="443.2" font-size="4.8" letter-spacing="0.6" text-anchor="middle" fill="#505459" stroke="#f5f5f3" stroke-width="0.8" paint-order="stroke">TEXAS</text>
<text x="892.0" y="455.5" font-size="4.8" letter-spacing="0.6" text-anchor="middle" fill="#505459" stroke="#f5f5f3" stroke-width="0.8" paint-order="stroke">LOUISIANA</text>
<text x="993.0" y="488.6" font-size="4.8" letter-spacing="0.6" text-anchor="middle" fill="#505459" stroke="#f5f5f3" stroke-width="0.8" paint-order="stroke">FLORIDA</text>
<text x="794.8" y="481.4" font-size="4.8" letter-spacing="0.6" text-anchor="middle" fill="#505459" stroke="#f5f5f3" stroke-width="0.8" paint-order="stroke">COAHUILA</text>
<text x="812.6" y="497.3" font-size="4.8" letter-spacing="0.6" text-anchor="middle" fill="#505459" stroke="#f5f5f3" stroke-width="0.8" paint-order="stroke">NUEVO LEON</text>
<text x="756.0" y="465.9" font-size="4.8" letter-spacing="0.6" text-anchor="middle" fill="#505459" stroke="#f5f5f3" stroke-width="0.8" paint-order="stroke">CHIHUAHUA</text>
<text x="756.0" y="413.4" font-size="4.8" letter-spacing="0.6" text-anchor="middle" fill="#505459" stroke="#f5f5f3" stroke-width="0.8" paint-order="stroke">EW MEXICO</text>
<text x="746.0" y="303.6" font-size="4.8" letter-spacing="0.6" text-anchor="middle" fill="#505459" stroke="#f5f5f3" stroke-width="0.8" paint-order="stroke">ING</text>
<text x="1057.0" y="345.0" font-size="4.8" letter-spacing="0.6" text-anchor="middle" fill="#505459" stroke="#f5f5f3" stroke-width="0.8" paint-order="stroke">NJ</text>
<text x="1049.0" y="354.4" font-size="4.8" letter-spacing="0.6" text-anchor="middle" fill="#505459" stroke="#f5f5f3" stroke-width="0.8" paint-order="stroke">DE</text>
<text x="1066.0" y="334.6" font-size="4.8" letter-spacing="0.6" text-anchor="middle" fill="#505459" stroke="#f5f5f3" stroke-width="0.8" paint-order="stroke">M</text>
<text x="1066.0" y="285.1" font-size="4.8" letter-spacing="0.6" text-anchor="middle" fill="#505459" stroke="#f5f5f3" stroke-width="0.8" paint-order="stroke">VE</text>
<circle cx="876.6" cy="275.4" r="0.9" fill="#fff" stroke="#666" stroke-width="0.45"/>
<text x="860.4" y="272.7" font-size="5.6" text-anchor="start" fill="#141618" font-weight="bold" stroke="#fff" stroke-width="0.9" paint-order="stroke">Minneapolis</text>
<circle cx="765.0" cy="343.7" r="0.9" fill="#fff" stroke="#666" stroke-width="0.45"/>
<text x="743.5" y="345.7" font-size="5.6" text-anchor="start" fill="#141618" font-weight="bold" stroke="#fff" stroke-width="0.9" paint-order="stroke">Denver</text>
<circle cx="931.0" cy="315.8" r="0.9" fill="#fff" stroke="#666" stroke-width="0.45"/>
<text x="920.0" y="313.7" font-size="5.6" text-anchor="start" fill="#141618" font-weight="bold" stroke="#fff" stroke-width="0.9" paint-order="stroke">Chicago</text>
<circle cx="1010.0" cy="290.5" r="0.9" fill="#fff" stroke="#666" stroke-width="0.45"/>
<text x="988.0" y="290.8" font-size="5.6" text-anchor="start" fill="#141618" font-weight="bold" stroke="#fff" stroke-width="0.9" paint-order="stroke">Toronto</text>
<text x="1036.5" y="266.2" font-size="5.6" text-anchor="start" fill="#141618" font-weight="bold" stroke="#fff" stroke-width="0.9" paint-order="stroke">Otta</text>
<text x="1016.8" y="338.2" font-size="5.6" text-anchor="start" fill="#141618" font-weight="bold" stroke="#fff" stroke-width="0.9" paint-order="stroke">Philadelphia</text>
<circle cx="1063.0" cy="331.0" r="0.9" fill="#fff" stroke="#666" stroke-width="0.45"/>
<text x="1050.0" y="329.0" font-size="5.6" text-anchor="start" fill="#141618" font-weight="bold" stroke="#fff" stroke-width="0.9" paint-order="stroke">New Yo</text>
<circle cx="945.0" cy="344.5" r="0.9" fill="#fff" stroke="#666" stroke-width="0.45"/>
<text x="929.0" y="350.2" font-size="5.6" text-anchor="start" fill="#141618" font-weight="bold" stroke="#fff" stroke-width="0.9" paint-order="stroke">Indianapolis</text>
<circle cx="900.0" cy="355.5" r="0.9" fill="#fff" stroke="#666" stroke-width="0.45"/>
<text x="894.7" y="355.0" font-size="5.6" text-anchor="start" fill="#141618" font-weight="bold" stroke="#fff" stroke-width="0.9" paint-order="stroke">St. Louis</text>
<circle cx="1016.0" cy="356.0" r="0.9" fill="#fff" stroke="#666" stroke-width="0.45"/>
<text x="1016.8" y="360.6" font-size="5.6" text-anchor="start" fill="#141618" font-weight="bold" stroke="#fff" stroke-width="0.9" paint-order="stroke">Washington</text>
<text x="927.7" y="385.0" font-size="5.6" text-anchor="start" fill="#141618" font-weight="bold" stroke="#fff" stroke-width="0.9" paint-order="stroke">Nashville</text>
<circle cx="986.0" cy="398.5" r="0.9" fill="#fff" stroke="#666" stroke-width="0.45"/>
<text x="984.0" y="405.3" font-size="5.6" text-anchor="start" fill="#141618" font-weight="bold" stroke="#fff" stroke-width="0.9" paint-order="stroke">Charlotte</text>
<circle cx="962.0" cy="415.0" r="0.9" fill="#fff" stroke="#666" stroke-width="0.45"/>
<text x="953.0" y="413.4" font-size="5.6" text-anchor="start" fill="#141618" font-weight="bold" stroke="#fff" stroke-width="0.9" paint-order="stroke">Atlanta</text>
<circle cx="843.0" cy="425.5" r="0.9" fill="#fff" stroke="#666" stroke-width="0.45"/>
<text x="834.4" y="424.5" font-size="5.6" text-anchor="start" fill="#141618" font-weight="bold" stroke="#fff" stroke-width="0.9" paint-order="stroke">Dallas</text>
<circle cx="833.0" cy="455.0" r="0.9" fill="#fff" stroke="#666" stroke-width="0.45"/>
<text x="825.6" y="453.0" font-size="5.6" text-anchor="start" fill="#141618" font-weight="bold" stroke="#fff" stroke-width="0.9" paint-order="stroke">Austin</text>
<circle cx="857.0" cy="460.0" r="0.9" fill="#fff" stroke="#666" stroke-width="0.45"/>
<text x="845.0" y="458.5" font-size="5.6" text-anchor="start" fill="#141618" font-weight="bold" stroke="#fff" stroke-width="0.9" paint-order="stroke">Houston</text>
<text x="972.4" y="452.0" font-size="5.6" text-anchor="start" fill="#141618" font-weight="bold" stroke="#fff" stroke-width="0.9" paint-order="stroke">Jacksonville</text>
<circle cx="826.0" cy="465.0" r="0.9" fill="#fff" stroke="#666" stroke-width="0.45"/>
<text x="810.4" y="471.4" font-size="5.6" text-anchor="start" fill="#141618" font-weight="bold" stroke="#fff" stroke-width="0.9" paint-order="stroke">San Antonio</text>
<text x="981.0" y="472.0" font-size="5.6" text-anchor="start" fill="#141618" font-weight="bold" stroke="#fff" stroke-width="0.9" paint-order="stroke">Orlando</text>
<circle cx="980.0" cy="481.0" r="0.9" fill="#fff" stroke="#666" stroke-width="0.45"/>
<text x="982.8" y="483.0" font-size="5.6" text-anchor="start" fill="#141618" font-weight="bold" stroke="#fff" stroke-width="0.9" paint-order="stroke">Tampa</text>
<circle cx="1003.0" cy="504.0" r="0.9" fill="#fff" stroke="#666" stroke-width="0.45"/>
<text x="994.0" y="502.0" font-size="5.6" text-anchor="start" fill="#141618" font-weight="bold" stroke="#fff" stroke-width="0.9" paint-order="stroke">Miami</text>
<circle cx="804.0" cy="506.0" r="0.9" fill="#fff" stroke="#666" stroke-width="0.45"/>
<text x="794.8" y="512.6" font-size="5.6" text-anchor="start" fill="#141618" font-weight="bold" stroke="#fff" stroke-width="0.9" paint-order="stroke">Monterrey</text>
<circle cx="746.0" cy="399.0" r="0.9" fill="#fff" stroke="#666" stroke-width="0.45"/>
<text x="741.5" y="397.6" font-size="5.6" text-anchor="start" fill="#141618" font-weight="bold" stroke="#fff" stroke-width="0.9" paint-order="stroke">uquerque</text>
<circle cx="749.0" cy="441.0" r="0.9" fill="#fff" stroke="#666" stroke-width="0.45"/>
<text x="741.5" y="446.8" font-size="5.6" text-anchor="start" fill="#141618" font-weight="bold" stroke="#fff" stroke-width="0.9" paint-order="stroke">rez</text>
<text x="1018.4" y="514.9" font-size="5.6" text-anchor="start" fill="#141618" font-weight="bold" stroke="#fff" stroke-width="0.9" paint-order="stroke">The</text>
<circle cx="1046" cy="269.3" r="1.1" fill="#333" stroke="#fff" stroke-width="0.4"/>
<text x="772.4" y="346.8" font-size="8.6" font-weight="bold" fill="#1f2123" stroke="#fff" stroke-width="1" paint-order="stroke">United States</text>
<defs><linearGradient id="lg" x1="0" y1="0" x2="0" y2="1"><stop offset="0" stop-color="#ef5350"/><stop offset="0.5" stop-color="#f5d24a"/><stop offset="1" stop-color="#43a047"/></linearGradient></defs>
<rect x="744.6" y="470" width="25" height="44" fill="#fff" fill-opacity="0.6"/>
<rect x="750.2" y="471.6" width="3.6" height="41.5" rx="1.5" fill="url(#lg)"/>
<text x="755.8" y="477.9" font-size="5.4" fill="#333">86</text>
<text x="756.3" y="511.2" font-size="5.4" fill="#333">1</text>
<text x="742" y="513" font-size="4.6" letter-spacing="0.6" fill="#5f6266">Lo</text>
<rect x="745.8" y="262.6" width="16.2" height="33.6" rx="1.5" fill="#fff" style="filter:drop-shadow(0 0.5px 1px rgba(0,0,0,.25))"/>
<line x1="748.5" y1="279.4" x2="759.3" y2="279.4" stroke="#e6e6e6" stroke-width="0.6"/>
<path d="M750.0,270.6 H757.8 M753.9,266.7 V274.5" stroke="#2b2b2b" stroke-width="1.35"/>
<path d="M750.0,287.5 H757.8" stroke="#2b2b2b" stroke-width="1.35"/>
<rect x="1048.9" y="262" width="16.1" height="17" rx="1.2" fill="#fff" style="filter:drop-shadow(0 0.5px 1px rgba(0,0,0,.25))"/>
<path d="M1053.3,269 V266.9 H1055.4 M1058.6,266.9 H1060.7 V269 M1060.7,271.9 V274 H1058.6 M1055.4,274 H1053.3 V271.9" fill="none" stroke="#333" stroke-width="1"/>
<rect x="1048.1" y="493.3" width="16.9" height="16.6" rx="1.2" fill="#fff" style="filter:drop-shadow(0 0.5px 1px rgba(0,0,0,.25))"/>
<g fill="#f7b20a" stroke="#c98a00" stroke-width="0.3"><circle cx="1056.5" cy="497.6" r="2.05"/><path d="M1054.3,500.2 Q1056.5,499.5 1058.7,500.2 L1059.9,504.9 L1058.9,505.2 L1058.3,502.6 L1058.1,508.2 L1056.9,508.2 L1056.5,505.2 L1056.1,508.2 L1054.9,508.2 L1054.7,502.6 L1054.1,505.2 L1053.1,504.9 Z"/></g><path d="M1055.6,500.1 L1056.5,501.6 L1057.4,500.1" fill="#e0452e"/>
</svg>
</div>

<div class="t" style="left:840.50px;top:244.74px;font-size:8.43px;color:#202124;transform:scaleX(0.902);transform-origin:0 0;-webkit-text-stroke:0.25px #202124;">Session Engagement for Job Postings</div>
</body></html>
